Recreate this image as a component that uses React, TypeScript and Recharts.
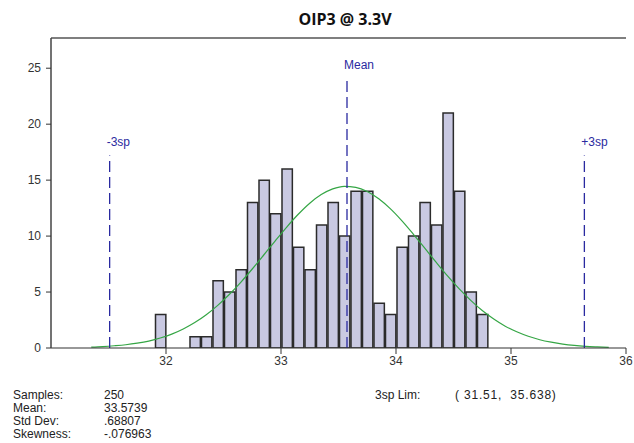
import React from "react";
import {
  Bar,
  ComposedChart,
  Line,
  ReferenceLine,
  XAxis,
  YAxis,
} from "recharts";

// bin centers (bin width 0.1)
const binCenters = [
  31.35, 31.45, 31.55, 31.65, 31.75, 31.85, 31.95, 32.05, 32.15, 32.25,
  32.35, 32.45, 32.55, 32.65, 32.75, 32.85, 32.95, 33.05, 33.15, 33.25,
  33.35, 33.45, 33.55, 33.65, 33.75, 33.85, 33.95, 34.05, 34.15, 34.25,
  34.35, 34.45, 34.55, 34.65, 34.75, 34.85, 34.95, 35.05, 35.15, 35.25,
  35.35, 35.45, 35.55, 35.65, 35.75, 35.85,
];

const counts: (number | null)[] = [
  null, null, null, null, null, null, 3, null, null, 1,
  1, 6, 5, 7, 13, 15, 12, 16, 9, 7,
  11, 13, 10, 14, 14, 4, 3, 9, 10, 13,
  11, 21, 14, 5, 3, null, null, null, null, null,
  null, null, null, null, null, null,
];

// fitted normal curve at each bin center
const normalFit = [
  0.08, 0.13, 0.2, 0.29, 0.43, 0.62, 0.89, 1.24, 1.7, 2.27,
  2.97, 3.81, 4.78, 5.87, 7.06, 8.31, 9.58, 10.81, 11.95, 12.94,
  13.71, 14.22, 14.45, 14.36, 13.99, 13.33, 12.45, 11.38, 10.18, 8.92,
  7.65, 6.42, 5.28, 4.26, 3.35, 2.59, 1.95, 1.45, 1.05, 0.74,
  0.52, 0.35, 0.23, 0.15, 0.1, 0.06,
];

const xTicks = [32, 33, 34, 35, 36];
const yTicks = [0, 5, 10, 15, 20, 25];
const Y_MAX = 27.7;

const markers = [
  { label: "-3sp", value: 31.51, top: 17.2 },
  { label: "Mean", value: 33.5739, top: 24 },
  { label: "+3sp", value: 35.638, top: 17.2 },
];

const statNames = ["Samples:", "Mean:", "Std Dev:", "Skewness:"];
const statValues = ["250", "33.5739", ".68807", "-.076963"];
const limitText = "( 31.51,  35.638)";

const data = binCenters.map((x, i) => ({ x, count: counts[i], fit: normalFit[i] }));

const NAVY = "#2a2aa0";
const tickFont = { fontFamily: "Liberation Sans, Arial, sans-serif", fontSize: 12, fill: "#333" };

function MarkerLabel({ viewBox, text }: any) {
  if (!viewBox) return null;
  return (
    <text
      x={viewBox.x - 3}
      y={viewBox.y - 10}
      fill={NAVY}
      fontSize={12}
      fontFamily="Liberation Sans, Arial, sans-serif"
    >
      {text}
    </text>
  );
}

const statStyle: React.CSSProperties = {
  position: "absolute",
  fontSize: 12,
  color: "#222",
  lineHeight: "12px",
  whiteSpace: "pre",
};

export default function App() {
  return (
    <div
      style={{
        position: "absolute",
        left: 0,
        top: 0,
        width: 634,
        height: 443,
        background: "#fff",
        fontFamily: "Liberation Sans, Arial, sans-serif",
      }}
    >
      <div
        style={{
          position: "absolute",
          left: 0,
          width: 690,
          top: 8,
          textAlign: "center",
          fontFamily: "Open Sans, sans-serif",
          fontWeight: 700,
          fontSize: 16,
          color: "#111",
        }}
      >
        OIP3 @ 3.3V
      </div>

      <ComposedChart
        width={634}
        height={443}
        data={data}
        margin={{ top: 38, right: 8, bottom: 65, left: 0 }}
        barCategoryGap={0}
        barGap={0}
        style={{ position: "absolute", left: 0, top: 0 }}
      >
        <XAxis
          dataKey="x"
          type="number"
          domain={[31, 36]}
          ticks={xTicks}
          allowDataOverflow
          height={30}
          tick={tickFont}
          tickSize={6}
          axisLine={{ stroke: "#333", strokeWidth: 1.2 }}
          tickLine={{ stroke: "#333" }}
        />
        <YAxis
          domain={[0, Y_MAX]}
          ticks={yTicks}
          allowDataOverflow
          width={51}
          tick={tickFont}
          tickSize={5}
          tickMargin={5}
          axisLine={{ stroke: "#444", strokeWidth: 1.5 }}
          tickLine={{ stroke: "#333" }}
        />
        <YAxis
          yAxisId="right"
          orientation="right"
          domain={[0, Y_MAX]}
          width={0}
          tick={false}
          tickLine={false}
          axisLine={{ stroke: "#666", strokeWidth: 1.5 }}
        />
        <ReferenceLine y={Y_MAX} stroke="#555" strokeWidth={1.5} />
        <Bar
          dataKey="count"
          fill="#c9c9e2"
          stroke="#2b2b2b"
          strokeWidth={1.5}
          barSize={11.5}
          isAnimationActive={false}
        />
        <Line
          dataKey="fit"
          type="monotone"
          stroke="#35a645"
          strokeWidth={1.2}
          dot={false}
          activeDot={false}
          isAnimationActive={false}
        />
        {markers.map((m) => (
          <ReferenceLine
            key={m.label}
            segment={[
              { x: m.value, y: 0 },
              { x: m.value, y: m.top },
            ]}
            stroke={NAVY}
            strokeWidth={1.3}
            strokeDasharray="11 5"
            label={<MarkerLabel text={m.label} />}
          />
        ))}
      </ComposedChart>

      {statNames.map((name, i) => (
        <React.Fragment key={name}>
          <div style={{ ...statStyle, left: 13, top: 389 + i * 13 }}>{name}</div>
          <div style={{ ...statStyle, left: 104, top: 389 + i * 13 }}>{statValues[i]}</div>
        </React.Fragment>
      ))}
      <div style={{ ...statStyle, left: 375, top: 389 }}>3sp Lim:</div>
      <div style={{ ...statStyle, left: 455, top: 389, letterSpacing: 0.8 }}>{limitText}</div>
    </div>
  );
}
